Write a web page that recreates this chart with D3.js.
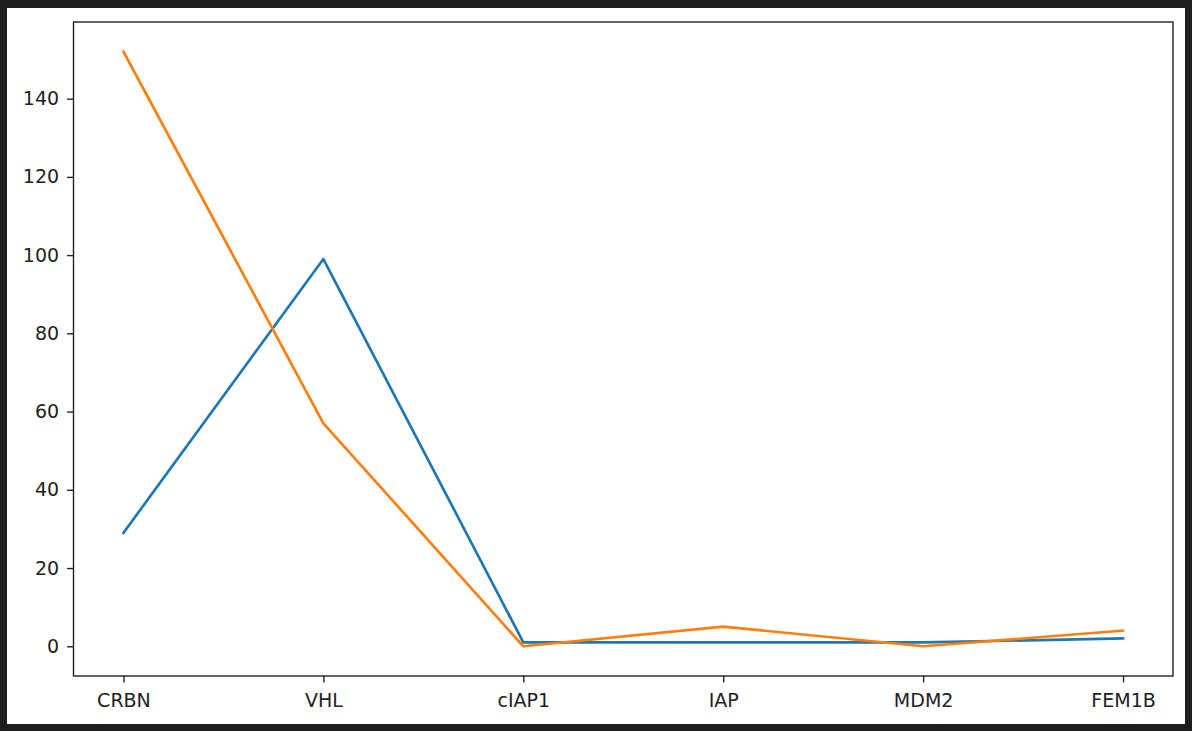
<!DOCTYPE html>
<html>
<head>
<meta charset="utf-8">
<script src="https://cdn.jsdelivr.net/npm/d3@7"></script>
<style>
  body { margin: 0; background: #1e1e1e; }
  svg { display: block; }
  .axis text { font-family: "DejaVu Sans", sans-serif; font-size: 19px; fill: #222; }
  .axis path, .axis line { stroke: #222; stroke-width: 1.4px; }
</style>
</head>
<body>
<script>
const width = 1192;
const height = 731;

// data
const categories = ['CRBN', 'VHL', 'cIAP1', 'IAP', 'MDM2', 'FEM1B'];
const blueValues = [29, 99, 1, 1, 1, 2];
const orangeValues = [152, 57, 0, 5, 0, 4];
const yTicks = [0, 20, 40, 60, 80, 100, 120, 140];

// plot area
const plotLeft = 73.5, plotRight = 1173, plotTop = 22, plotBottom = 676;

const svg = d3.select('body').append('svg')
    .attr('width', width)
    .attr('height', height);

svg.append('rect')
    .attr('width', width).attr('height', height)
    .attr('fill', '#1e1e1e');

// white figure
svg.append('rect')
    .attr('x', 7).attr('y', 8)
    .attr('width', 1178).attr('height', 716)
    .attr('fill', '#ffffff');

// 5% margins each side, like matplotlib
const xScale = d3.scalePoint()
    .domain(categories)
    .range([plotLeft, plotRight])
    .padding(0.25);

const yMin = 0, yMax = 152;
const pad = (yMax - yMin) * 0.05;
const yScale = d3.scaleLinear()
    .domain([yMin - pad, yMax + pad])
    .range([plotBottom, plotTop]);

// lines
const line = d3.line()
    .x((d, i) => xScale(categories[i]))
    .y(d => yScale(d));

svg.append('path')
    .attr('d', line(blueValues))
    .attr('fill', 'none')
    .attr('stroke', '#1f77b4')
    .attr('stroke-width', 2.7)
    .attr('stroke-linejoin', 'round')
    .attr('stroke-linecap', 'square');

svg.append('path')
    .attr('d', line(orangeValues))
    .attr('fill', 'none')
    .attr('stroke', '#ff7f0e')
    .attr('stroke-width', 2.7)
    .attr('stroke-linejoin', 'round')
    .attr('stroke-linecap', 'square');

// axes
const xAxis = d3.axisBottom(xScale).tickSize(6.4).tickPadding(11).tickSizeOuter(0);
const yAxis = d3.axisLeft(yScale).tickValues(yTicks).tickSize(6.4).tickPadding(8).tickSizeOuter(0);

const gx = svg.append('g')
    .attr('class', 'axis')
    .attr('transform', 'translate(0,' + plotBottom + ')')
    .call(xAxis);
gx.select('.domain').remove();

const gy = svg.append('g')
    .attr('class', 'axis')
    .attr('transform', 'translate(' + plotLeft + ',0)')
    .call(yAxis);
gy.select('.domain').remove();

// frame
svg.append('rect')
    .attr('x', plotLeft).attr('y', plotTop)
    .attr('width', plotRight - plotLeft).attr('height', plotBottom - plotTop)
    .attr('fill', 'none')
    .attr('stroke', '#222')
    .attr('stroke-width', 1.4);
</script>
</body>
</html>
